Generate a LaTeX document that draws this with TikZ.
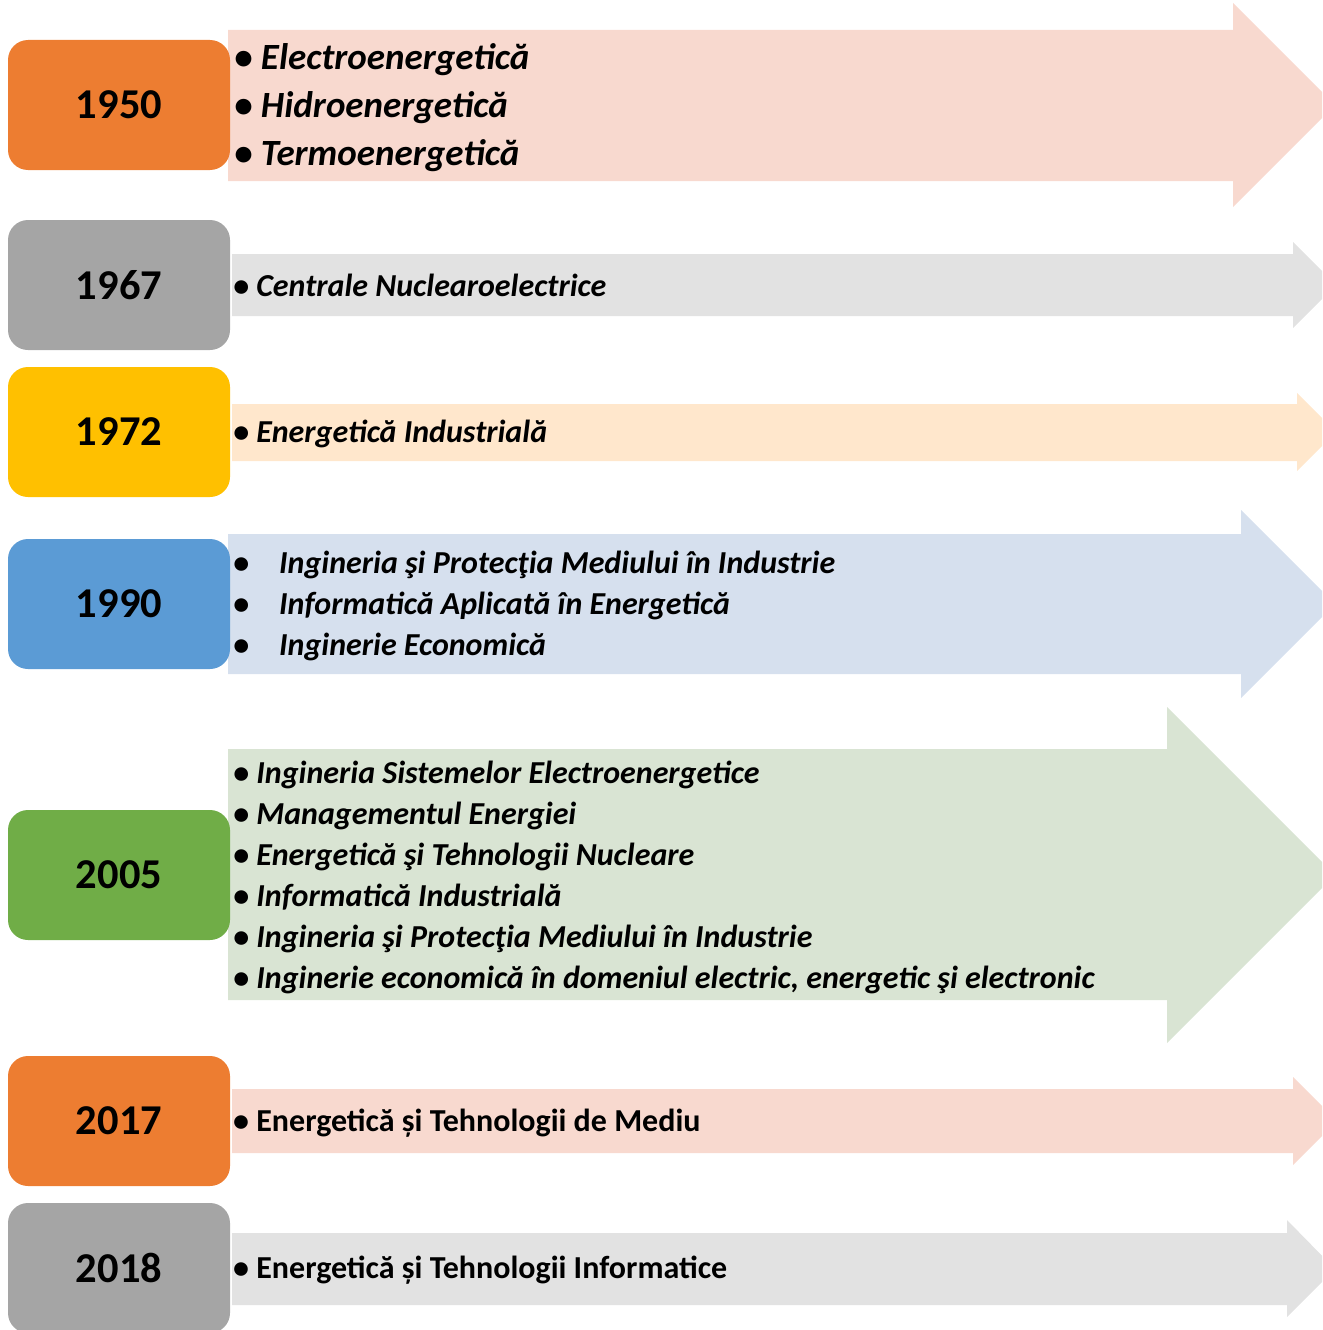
\documentclass[tikz,border=0pt]{standalone}
\usepackage{fontspec}
\setmainfont{Carlito}

\definecolor{orangeyear}{HTML}{ED7D31}
\definecolor{grayyear}{HTML}{A5A5A5}
\definecolor{yellowyear}{HTML}{FFC000}
\definecolor{blueyear}{HTML}{5B9BD5}
\definecolor{greenyear}{HTML}{70AD47}
\definecolor{orangeband}{HTML}{F8D9CF}
\definecolor{grayband}{HTML}{E2E2E2}
\definecolor{yellowband}{HTML}{FFE7CC}
\definecolor{blueband}{HTML}{D6E0EE}
\definecolor{greenband}{HTML}{D9E4D3}

\begin{document}
\begin{tikzpicture}[x=1pt,y=-1pt,
  year/.style={rounded corners=20pt, minimum width=222pt, minimum height=130pt,
    inner sep=0pt, font=\fontsize{42.5}{48}\selectfont\bfseries},
  items/.style={anchor=west, align=left, inner sep=0pt,
    font=\fontsize{32}{41}\selectfont\bfseries\itshape},
  bigitems/.style={items, font=\fontsize{37}{48}\selectfont\bfseries\itshape},
  plainitems/.style={items, font=\fontsize{32}{41}\selectfont\bfseries}]
  \useasboundingbox (0,0) rectangle (1322,1330);
  \clip (0,0) rectangle (1322,1330);

  % Bands
  \fill[orangeband] (228,30) -- (1233,30) -- (1233,3) -- (1335,105) -- (1233,207) -- (1233,181) -- (228,181) -- cycle;
  \fill[grayband] (232,254) -- (1293,254) -- (1293,242) -- (1336,285) -- (1293,328) -- (1293,316) -- (232,316) -- cycle;
  \fill[yellowband] (232,404) -- (1297,404) -- (1297,393) -- (1336,432) -- (1297,471) -- (1297,461) -- (232,461) -- cycle;
  \fill[blueband] (228,534) -- (1241,534) -- (1241,510) -- (1335,604) -- (1241,698) -- (1241,674) -- (228,674) -- cycle;
  \fill[greenband] (228,749) -- (1167,749) -- (1167,707) -- (1335,875) -- (1167,1043) -- (1167,1000) -- (228,1000) -- cycle;
  \fill[orangeband] (232,1089) -- (1293,1089) -- (1293,1077) -- (1337,1121) -- (1293,1165) -- (1293,1153) -- (232,1153) -- cycle;
  \fill[grayband] (232,1233) -- (1287,1233) -- (1287,1220) -- (1335,1269) -- (1287,1317) -- (1287,1305) -- (232,1305) -- cycle;

  % Years
  \node[year, fill=orangeyear] (y1950) at (119,105) {1950};
  \node[year, fill=grayyear] (y1967) at (119,285) {1967};
  \node[year, fill=yellowyear] (y1972) at (119,432) {1972};
  \node[year, fill=blueyear] (y1990) at (119,604) {1990};
  \node[year, fill=greenyear] (y2005) at (119,875) {2005};
  \node[year, fill=orangeyear] (y2017) at (119,1121) {2017};
  \node[year, fill=grayyear] (y2018) at (119,1268) {2018};

  % Specializations
  \node[bigitems] (t1950) at (234,108) {• Electroenergetică\\• Hidroenergetică\\• Termoenergetică};
  \node[items] (t1967) at (233,285) {• Centrale Nuclearoelectrice};
  \node[items] (t1972) at (233,434) {• Energetică Industrială};
  \node[items] (t1990) at (233,606) {•\hspace{30pt}Ingineria şi Protecţia Mediului în Industrie\\
    •\hspace{30pt}Informatică Aplicată în Energetică\\
    •\hspace{30pt}Inginerie Economică};
  \node[items] (t2005) at (233,877) {• Ingineria Sistemelor Electroenergetice\\
    • Managementul Energiei\\
    • Energetică şi Tehnologii Nucleare\\
    • Informatică Industrială\\
    • Ingineria şi Protecţia Mediului în Industrie\\
    • Inginerie economică în domeniul electric, energetic şi electronic};
  \node[plainitems] (t2017) at (233,1123) {• Energetică și Tehnologii de Mediu};
  \node[plainitems] (t2018) at (233,1270) {• Energetică și Tehnologii Informatice};
\end{tikzpicture}
\end{document}
